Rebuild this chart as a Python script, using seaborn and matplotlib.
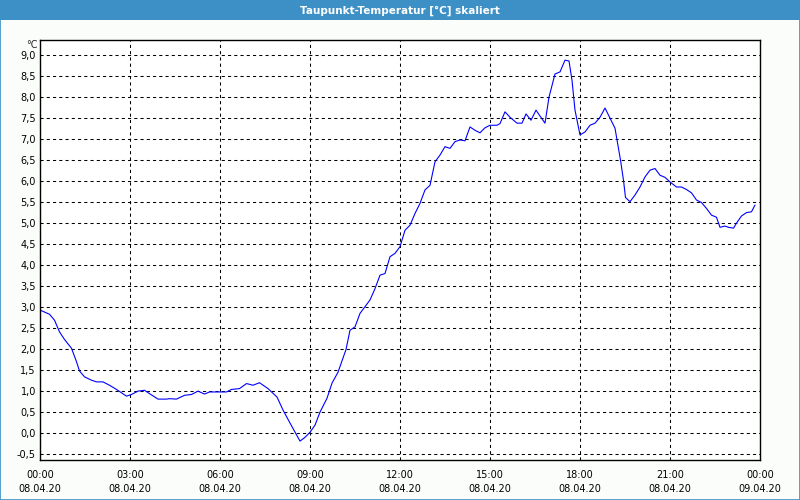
import matplotlib
import matplotlib.pyplot as plt
import matplotlib.dates as mdates
import pandas as pd
import seaborn as sns
from matplotlib.patches import Rectangle

matplotlib.use("Agg")

DAY = "2020-04-08"
TITLE = "Taupunkt-Temperatur [°C] skaliert"
UNIT = "°C"

times = [
    "00:00", "00:19", "00:29", "00:39", "00:49", "01:03", "01:13", "01:19", "01:29", "01:43",
    "01:53", "02:06", "02:19", "02:33", "02:43", "02:53", "03:03", "03:16", "03:29", "03:39",
    "03:56", "04:13", "04:19", "04:33", "04:49", "05:03", "05:16", "05:29", "05:39", "05:56",
    "06:13", "06:23", "06:39", "06:53", "07:06", "07:19", "07:36", "07:54", "08:06", "08:20",
    "08:40", "08:50", "09:00", "09:10", "09:20", "09:34", "09:44", "09:56", "10:12", "10:20",
    "10:30", "10:40", "10:50", "11:00", "11:10", "11:20", "11:30", "11:40", "11:50", "12:00",
    "12:10", "12:20", "12:30", "12:40", "12:50", "13:00", "13:10", "13:20", "13:30", "13:40",
    "13:50", "14:00", "14:10", "14:20", "14:30", "14:40", "14:50", "15:00", "15:14", "15:20",
    "15:30", "15:40", "15:54", "16:04", "16:12", "16:22", "16:32", "16:40", "16:50", "16:58",
    "17:10", "17:20", "17:30", "17:38", "17:44", "17:50", "18:00", "18:10", "18:20", "18:30",
    "18:40", "18:50", "19:00", "19:10", "19:21", "19:27", "19:31", "19:40", "19:50", "20:00",
    "20:10", "20:20", "20:30", "20:40", "20:50", "21:00", "21:13", "21:23", "21:33", "21:43",
    "21:53", "22:03", "22:13", "22:23", "22:33", "22:40", "22:50", "22:57", "23:07", "23:13",
    "23:23", "23:33", "23:43", "23:50",
]
values = [
    2.93, 2.83, 2.69, 2.41, 2.23, 2.02, 1.70, 1.48, 1.34, 1.26,
    1.22, 1.22, 1.14, 1.04, 0.96, 0.88, 0.92, 1.00, 1.02, 0.94,
    0.81, 0.81, 0.82, 0.81, 0.90, 0.92, 1.00, 0.93, 0.98, 0.98,
    0.98, 1.04, 1.06, 1.18, 1.14, 1.20, 1.06, 0.86, 0.55, 0.24,
    -0.19, -0.10, 0.02, 0.19, 0.50, 0.83, 1.19, 1.45, 1.99, 2.45,
    2.53, 2.85, 3.01, 3.17, 3.44, 3.76, 3.80, 4.20, 4.28, 4.44,
    4.83, 4.95, 5.23, 5.47, 5.79, 5.90, 6.46, 6.62, 6.82, 6.78,
    6.94, 6.98, 6.96, 7.29, 7.21, 7.15, 7.27, 7.33, 7.33, 7.37,
    7.65, 7.52, 7.38, 7.38, 7.60, 7.45, 7.69, 7.55, 7.38, 8.00,
    8.55, 8.60, 8.88, 8.86, 8.40, 7.69, 7.10, 7.17, 7.33, 7.38,
    7.52, 7.74, 7.50, 7.26, 6.50, 6.02, 5.61, 5.51, 5.67, 5.86,
    6.10, 6.26, 6.30, 6.14, 6.09, 5.98, 5.86, 5.86, 5.80, 5.72,
    5.55, 5.49, 5.35, 5.19, 5.14, 4.90, 4.93, 4.90, 4.88, 5.00,
    5.17, 5.25, 5.27, 5.43,
]
y_ticks = [-0.5, 0.0, 0.5, 1.0, 1.5, 2.0, 2.5, 3.0, 3.5, 4.0,
           4.5, 5.0, 5.5, 6.0, 6.5, 7.0, 7.5, 8.0, 8.5, 9.0]

df = pd.DataFrame({"time": pd.to_datetime([f"{DAY} {t}" for t in times]), "value": values})

sns.set_style("white")
plt.rcParams["font.family"] = ["DejaVu Sans"]

fig = plt.figure(figsize=(8, 5), dpi=100, facecolor="#fbfdfb")
ax = fig.add_axes([0.05, 0.08, 0.90, 0.84])
ax.set_facecolor("white")

# title bar and outer frame
fig.patches.append(Rectangle((0, 0.96), 1, 0.04, transform=fig.transFigure,
                             facecolor="#3d90c6", edgecolor="none", zorder=0))
fig.patches.append(Rectangle((0.0006, 0.001), 0.9988, 0.998, transform=fig.transFigure,
                             facecolor="none", edgecolor="#3d90c6", linewidth=1.2, zorder=1))
fig.text(0.5, 0.979, TITLE, ha="center", va="center", color="white",
         fontsize=7.5, fontweight="bold")

sns.lineplot(data=df, x="time", y="value", color="#0000ff", linewidth=0.8, ax=ax)

start = pd.Timestamp(DAY)
ax.set_xlim(start, start + pd.Timedelta(days=1))
ax.set_ylim(-0.64, 9.36)

ax.xaxis.set_major_locator(mdates.HourLocator(byhour=range(0, 24, 3)))
ax.xaxis.set_minor_locator(mdates.HourLocator())
ax.xaxis.set_major_formatter(mdates.DateFormatter("%H:%M\n%d.%m.%y"))
ax.set_yticks(y_ticks)
ax.set_yticklabels([f"{v:.1f}".replace(".", ",") for v in y_ticks])

ax.tick_params(axis="x", which="both", direction="out", length=3, width=0.8,
               colors="black", labelsize=7, pad=4)
ax.tick_params(axis="y", length=0, pad=3, labelsize=7, colors="black")
for lbl in ax.get_xticklabels():
    lbl.set_linespacing(1.55)

ax.grid(True, which="major", color="black", linestyle=(0, (3, 3)), linewidth=0.75)
for s in ax.spines.values():
    s.set_color("black")
    s.set_linewidth(1.0)

ax.set_xlabel("")
ax.set_ylabel("")
ax.text(-0.003, 1.0, UNIT, transform=ax.transAxes, ha="right", va="top", fontsize=7)

fig.savefig("out.png", dpi=100, facecolor=fig.get_facecolor())
